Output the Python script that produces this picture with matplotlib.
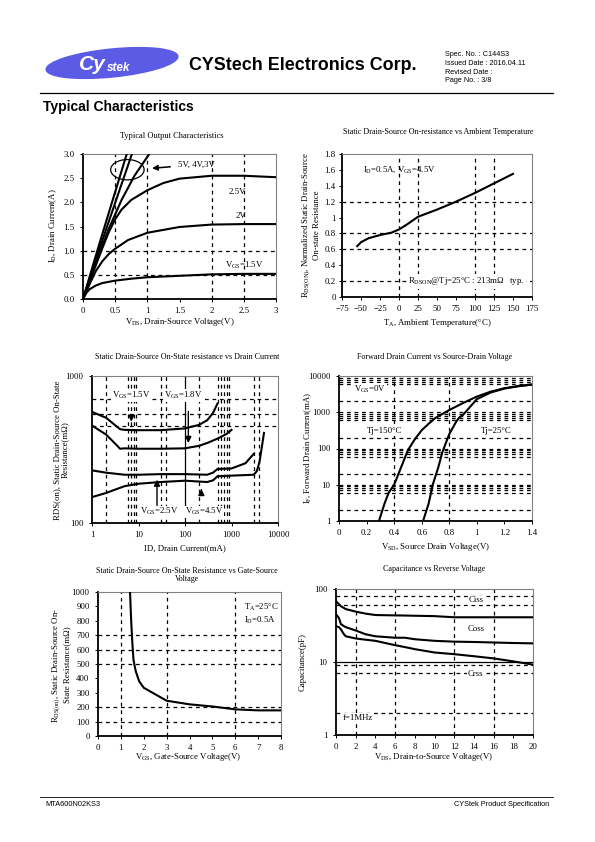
import matplotlib
matplotlib.use("Agg")
import matplotlib.pyplot as plt
from matplotlib.patches import Ellipse

plt.rcParams['font.family'] = ['Liberation Serif', 'DejaVu Serif']
plt.rcParams['mathtext.fontset'] = 'custom'
plt.rcParams['mathtext.rm'] = 'Liberation Serif'
plt.rcParams['mathtext.it'] = 'Liberation Serif:italic'

# ---- data ----
# typical output characteristics, Id(A) vs Vds(V)
vds_15 = [0, 0.05, 0.1, 0.2, 0.3, 0.5, 0.75, 1.0, 1.5, 2.0, 2.5, 3.0]
id_15 = [0, 0.12, 0.2, 0.28, 0.33, 0.38, 0.42, 0.45, 0.48, 0.51, 0.52, 0.52]
vds_2 = [0, 0.1, 0.2, 0.3, 0.4, 0.5, 0.7, 1.0, 1.5, 2.0, 2.5, 3.0]
id_2 = [0, 0.3, 0.58, 0.78, 0.93, 1.04, 1.22, 1.37, 1.49, 1.54, 1.55, 1.55]
vds_25 = [0, 0.1, 0.2, 0.3, 0.4, 0.5, 0.6, 0.75, 1.0, 1.25, 1.5, 2.0, 2.5, 3.0]
id_25 = [0, 0.35, 0.7, 1.05, 1.38, 1.65, 1.85, 2.05, 2.25, 2.4, 2.49, 2.55, 2.55, 2.52]
vds_3 = [0, 0.2, 0.4, 0.6, 0.8, 1.03]
id_3 = [0, 0.75, 1.45, 2.05, 2.55, 3.0]
vds_4 = [0, 0.2, 0.4, 0.76]
id_4 = [0, 0.82, 1.6, 3.0]
vds_5 = [0, 0.2, 0.4, 0.68]
id_5 = [0, 0.9, 1.78, 3.0]

# normalized Rds(on) vs ambient temperature
temp_c = [-55, -50, -40, -25, -10, 0, 10, 25, 50, 75, 100, 125, 150]
rds_norm = [0.64, 0.69, 0.74, 0.78, 0.81, 0.85, 0.91, 1.01, 1.1, 1.2, 1.31, 1.43, 1.55]

# Rds(on) (mOhm) vs drain current (mA)
id_a = [1, 2, 3.5, 4, 5, 10, 30, 100, 200, 300, 400, 500]
rds_a = [570, 520, 450, 435, 430, 428, 428, 440, 465, 500, 560, 650]
id_b = [1, 2, 3.5, 4, 5, 10, 30, 100, 200, 300, 500, 800, 1000]
rds_b = [460, 400, 335, 320, 322, 320, 320, 322, 335, 350, 375, 405, 430]
id_c = [1, 2, 5, 10, 30, 100, 300, 400, 500, 1000, 2000, 3000]
rds_c = [228, 220, 213, 213, 215, 215, 213, 220, 233, 235, 255, 295]
id_d = [1, 2, 5, 10, 30, 100, 300, 400, 500, 1000, 3000, 3500, 4000, 4500, 5000]
rds_d = [150, 160, 178, 185, 190, 194, 190, 195, 208, 210, 213, 225, 260, 330, 410]

# forward drain current (mA) vs source-drain voltage
vsd_150 = [0.29, 0.33, 0.36, 0.4, 0.45, 0.5, 0.55, 0.6, 0.65, 0.7, 0.75, 0.8, 0.9, 1.0, 1.1, 1.2, 1.3, 1.4]
if_150 = [1, 3, 6, 10, 30, 90, 180, 320, 480, 700, 900, 1150, 1800, 2700, 3700, 4600, 5300, 5800]
vsd_25 = [0.61, 0.65, 0.68, 0.72, 0.75, 0.8, 0.85, 0.87, 0.9, 1.0, 1.1, 1.2, 1.3, 1.4]
if_25 = [1, 3, 10, 30, 80, 250, 550, 700, 850, 2300, 3500, 4500, 5200, 5800]

# Rds(on) (mOhm) vs gate-source voltage
vgs = [1.4, 1.45, 1.5, 1.55, 1.65, 1.8, 2.0, 2.5, 3.0, 4.0, 5.0, 6.0, 7.0, 8.0]
rds_vgs = [1000, 800, 650, 530, 450, 380, 335, 290, 245, 220, 205, 185, 178, 178]

# capacitance (pF) vs Vds
cap_v = [0, 0.3, 0.5, 0.8, 1, 2, 3, 4, 6, 7, 8, 10, 12, 14, 16, 18, 20]
ciss = [68, 62, 58, 55, 53, 49, 46, 44, 43.5, 43.3, 43, 42.5, 41, 41, 41, 41, 41]
coss = [45, 40, 33, 31, 30, 27, 24, 22.5, 21.5, 21.5, 20.5, 19.5, 19, 18.8, 18.5, 18.2, 18]
crss = [31, 30, 28, 24, 22.5, 21, 20.2, 19.5, 17, 16, 15, 13.5, 12.8, 12, 11.2, 10.2, 9.2]

W, H = 595, 842
fig = plt.figure(figsize=(W / 100, H / 100), dpi=100)
fig.patch.set_facecolor('white')

FS = 6.3


def px_text(x, y, s, **kw):
    fig.text(x / W, 1 - y / H, s, **kw)


def make_ax(l, t, r, b, pad=4):
    ax = fig.add_axes([l / W, 1 - b / H, (r - l) / W, (b - t) / H])
    for side in ('left', 'bottom'):
        ax.spines[side].set_color('black')
        ax.spines[side].set_linewidth(1.3)
    for side in ('top', 'right'):
        ax.spines[side].set_color('#808080')
        ax.spines[side].set_linewidth(0.8)
    ax.tick_params(labelsize=FS, length=2, width=0.7, direction='out', pad=4)
    ax.tick_params(axis='y', pad=pad)
    ax.tick_params(which='minor', length=0)
    return ax


def dashes(ax, xs=(), ys=()):
    for x in xs:
        ax.axvline(x, color='black', lw=0.9, ls=(0, (3, 3)), zorder=1)
    for y in ys:
        ax.axhline(y, color='black', lw=0.9, ls=(0, (3, 3)), zorder=1)


lw = 1.5

# ---------- header ----------
logo = Ellipse((112 / W, 1 - 63 / H), 132 / W, 28 / H, angle=4, color='#5b5be6', transform=fig.transFigure)
fig.patches.append(logo)
px_text(79, 65, 'Cy', color='white', fontsize=15, fontweight='bold', fontstyle='italic',
        family='Liberation Sans', ha='left', va='center')
px_text(107, 68, 'stek', color='white', fontsize=8.5, fontweight='bold', fontstyle='italic',
        family='Liberation Sans', ha='left', va='center')
px_text(189, 66, 'CYStech Electronics Corp.', fontsize=12.9, fontweight='bold',
        family='Liberation Sans', ha='left', va='center')
for i, s in enumerate(['Spec. No. : C144S3', 'Issued Date : 2016.04.11', 'Revised Date :', 'Page No. : 3/8']):
    px_text(445, 55 + i * 8.6, s, fontsize=5.2, family='Liberation Sans', ha='left', va='center')
fig.add_artist(plt.Line2D([40 / W, 553 / W], [1 - 93 / H, 1 - 93 / H], color='black', lw=0.9,
                          transform=fig.transFigure))
px_text(43, 107, 'Typical Characteristics', fontsize=10, fontweight='bold',
        family='Liberation Sans', ha='left', va='center')

# footer
fig.add_artist(plt.Line2D([40 / W, 553 / W], [1 - 797 / H, 1 - 797 / H], color='black', lw=0.6,
                          transform=fig.transFigure))
px_text(45, 804, 'MTA600N02KS3', fontsize=5.3, family='Liberation Sans', ha='left', va='center')
px_text(549, 804, 'CYStek Product Specification', fontsize=5.3, family='Liberation Sans',
        ha='right', va='center')

# ---------- 1: output characteristics ----------
ax = make_ax(83, 154, 276, 299)
dashes(ax, xs=[0.5, 1, 2, 2.5], ys=[0.5, 1.0])
for xv, yv in [(vds_15, id_15), (vds_2, id_2), (vds_25, id_25), (vds_3, id_3), (vds_4, id_4), (vds_5, id_5)]:
    ax.plot(xv, yv, color='black', lw=lw, zorder=3)
ax.set_xlim(0, 3)
ax.set_ylim(0, 3)
ax.set_xticks([0, 0.5, 1, 1.5, 2, 2.5, 3])
ax.set_xticklabels(['0', '0.5', '1', '1.5', '2', '2.5', '3'])
ax.set_yticks([0, 0.5, 1, 1.5, 2, 2.5, 3])
ax.set_yticklabels(['0.0', '0.5', '1.0', '1.5', '2.0', '2.5', '3.0'])
ax.add_patch(Ellipse((0.69, 2.675), 0.52, 0.42, fill=False, color='black', lw=0.9))
ax.annotate('', xy=(1.03, 2.7), xytext=(1.4, 2.74),
            arrowprops=dict(arrowstyle='-|>', color='black', lw=1.1, mutation_scale=8))
ax.text(1.47, 2.77, '5V, 4V,3V', fontsize=FS, ha='left', va='center')
ax.text(2.4, 2.22, '2.5V', fontsize=FS, ha='center', va='center')
ax.text(2.45, 1.72, '2V', fontsize=FS, ha='center', va='center')
ax.text(2.5, 0.69, 'V$_{\\mathrm{GS}}$=1.5V', fontsize=FS, ha='center', va='center')
px_text(172, 136, 'Typical Output Characteristics', fontsize=6, ha='center', va='center')
px_text(180, 322, 'V$_{\\mathrm{DS}}$, Drain-Source Voltage(V)', fontsize=FS, ha='center', va='center')
px_text(53, 226, 'I$_{\\mathrm{D}}$, Drain Current(A)', fontsize=FS, ha='center', va='center', rotation=90)

# ---------- 2: Rds vs ambient temperature ----------
ax = make_ax(342, 154, 532, 297, pad=2.5)
dashes(ax, xs=[0, 25, 100, 125], ys=[0.2, 0.6, 0.8, 1.2])
ax.plot(temp_c, rds_norm, color='black', lw=lw, zorder=3)
ax.set_xlim(-75, 175)
ax.set_ylim(0, 1.8)
ax.set_xticks(range(-75, 176, 25))
ax.set_yticks([0, 0.2, 0.4, 0.6, 0.8, 1.0, 1.2, 1.4, 1.6, 1.8])
ax.set_yticklabels(['0', '0.2', '0.4', '0.6', '0.8', '1', '1.2', '1.4', '1.6', '1.8'])
ax.text(-47, 1.6, 'I$_{\\mathrm{D}}$=0.5A, V$_{\\mathrm{GS}}$=4.5V', fontsize=FS, ha='left', va='center')
ax.text(12, 0.2, 'R$_{\\mathrm{DSON}}$@Tj=25°C : 213mΩ   typ.', fontsize=FS, ha='left', va='center',
        bbox=dict(facecolor='white', edgecolor='none', pad=1), zorder=4)
px_text(438, 132, 'Static Drain-Source On-resistance vs Ambient Temperature', fontsize=5.8,
        ha='center', va='center')
px_text(437, 323, 'T$_{\\mathrm{A}}$, Ambient Temperature(°C)', fontsize=FS, ha='center', va='center')
px_text(311, 225, 'R$_{\\mathrm{DS(ON)}}$, Normalized Static Drain-Source\nOn-state Resistance',
        fontsize=FS, ha='center', va='center', rotation=90, linespacing=1.0)

# ---------- 3: Rds vs drain current ----------
ax = make_ax(92, 376, 278, 523)
ax.set_xscale('log')
ax.set_yscale('log')
dashes(ax, xs=[2, 6, 7, 8, 9, 30, 40, 200, 500, 600, 700, 800, 900, 3000, 4000], ys=[460, 550, 700])
ax.axvline(100, color='black', lw=0.9, zorder=1)
for xv, yv in [(id_a, rds_a), (id_b, rds_b), (id_c, rds_c), (id_d, rds_d)]:
    ax.plot(xv, yv, color='black', lw=lw, zorder=3)
ax.set_xlim(1, 10000)
ax.set_ylim(100, 1000)
ax.set_xticks([1, 10, 100, 1000, 10000])
ax.set_xticklabels(['1', '10', '100', '1000', '10000'])
ax.set_yticks([100, 1000])
ax.set_yticklabels(['100', '1000'])
ax.minorticks_off()
wb = dict(facecolor='white', edgecolor='none', pad=0.5)
ax.text(7, 735, 'V$_{\\mathrm{GS}}$=1.5V', fontsize=FS, ha='center', va='center', bbox=wb, zorder=4)
ax.text(90, 735, 'V$_{\\mathrm{GS}}$=1.8V', fontsize=FS, ha='center', va='center', bbox=wb, zorder=4)
ax.text(28, 119, 'V$_{\\mathrm{GS}}$=2.5V', fontsize=FS, ha='center', va='center', bbox=wb, zorder=4)
ax.text(260, 119, 'V$_{\\mathrm{GS}}$=4.5V', fontsize=FS, ha='center', va='center', bbox=wb, zorder=4)
arr = dict(arrowstyle='-|>', color='black', lw=1.0, mutation_scale=9)
ax.annotate('', xy=(7, 468), xytext=(7, 560), arrowprops=arr, zorder=5)
ax.annotate('', xy=(118, 335), xytext=(118, 600), arrowprops=arr, zorder=5)
ax.annotate('', xy=(25, 206), xytext=(25, 126), arrowprops=arr, zorder=5)
ax.annotate('', xy=(225, 178), xytext=(225, 160), arrowprops=arr, zorder=5)
px_text(187, 357, 'Static Drain-Source On-State resistance vs Drain Current', fontsize=5.8,
        ha='center', va='center')
px_text(185, 548, 'ID, Drain Current(mA)', fontsize=FS, ha='center', va='center')
px_text(61, 450, 'RDS(on), Static Drain-Source On-State\nResistance(mΩ)', fontsize=FS,
        ha='center', va='center', rotation=90, linespacing=1.0)

# ---------- 4: forward drain current ----------
ax = make_ax(339, 376, 532, 521)
ax.set_yscale('log')
ys4 = []
for dec in [1, 10, 100, 1000]:
    ys4 += [2 * dec, 6 * dec, 7 * dec, 8 * dec, 9 * dec]
ys4 += [10, 100, 1000]
dashes(ax, xs=[0.4, 0.8], ys=ys4)
ax.plot(vsd_150, if_150, color='black', lw=lw, zorder=3)
ax.plot(vsd_25, if_25, color='black', lw=lw, zorder=3)
ax.set_xlim(0, 1.4)
ax.set_ylim(1, 10000)
ax.set_xticks([0, 0.2, 0.4, 0.6, 0.8, 1.0, 1.2, 1.4])
ax.set_xticklabels(['0', '0.2', '0.4', '0.6', '0.8', '1', '1.2', '1.4'])
ax.set_yticks([1, 10, 100, 1000, 10000])
ax.set_yticklabels(['1', '10', '100', '1000', '10000'])
ax.minorticks_off()
ax.text(0.11, 4200, 'V$_{\\mathrm{GS}}$=0V', fontsize=FS, ha='left', va='center', bbox=wb, zorder=4)
ax.text(0.2, 300, 'Tj=150°C', fontsize=FS, ha='left', va='center', bbox=wb, zorder=4)
ax.text(1.03, 300, 'Tj=25°C', fontsize=FS, ha='left', va='center', bbox=wb, zorder=4)
px_text(435, 357, 'Forward Drain Current vs Source-Drain Voltage', fontsize=5.8, ha='center', va='center')
px_text(435, 547, 'V$_{\\mathrm{SD}}$, Source Drain Voltage(V)', fontsize=FS, ha='center', va='center')
px_text(308, 448, 'I$_{\\mathrm{F}}$, Forward Drain Current(mA)', fontsize=FS, ha='center', va='center',
        rotation=90)

# ---------- 5: Rds vs gate-source voltage ----------
ax = make_ax(98, 592, 281, 736)
dashes(ax, xs=[1, 3, 6], ys=[100, 200, 500, 600, 700])
ax.plot(vgs, rds_vgs, color='black', lw=lw, zorder=3)
ax.set_xlim(0, 8)
ax.set_ylim(0, 1000)
ax.set_xticks(range(0, 9))
ax.set_yticks(range(0, 1001, 100))
ax.text(6.4, 895, 'T$_{\\mathrm{A}}$=25°C', fontsize=FS, ha='left', va='center')
ax.text(6.4, 805, 'I$_{\\mathrm{D}}$=0.5A', fontsize=FS, ha='left', va='center')
px_text(187, 575, 'Static Drain-Source On-State Resistance vs Gate-Source\nVoltage', fontsize=5.8,
        ha='center', va='center', linespacing=1.1)
px_text(188, 757, 'V$_{\\mathrm{GS}}$, Gate-Source Voltage(V)', fontsize=FS, ha='center', va='center')
px_text(61, 665, 'R$_{\\mathrm{DS(on)}}$, Static Drain-Source On-\nState Resistance(mΩ)', fontsize=FS,
        ha='center', va='center', rotation=90, linespacing=1.0)

# ---------- 6: capacitance ----------
ax = make_ax(336, 589, 533, 735)
ax.set_yscale('log')
dashes(ax, xs=[2, 6, 12, 16], ys=[2, 7, 9, 60, 80])
ax.axhline(10, color='black', lw=0.9, zorder=1)
for yv in (ciss, coss, crss):
    ax.plot(cap_v, yv, color='black', lw=lw, zorder=3)
ax.set_xlim(0, 20)
ax.set_ylim(1, 100)
ax.set_xticks(range(0, 21, 2))
ax.set_yticks([1, 10, 100])
ax.set_yticklabels(['1', '10', '100'])
ax.minorticks_off()
ax.text(14.2, 70, 'Ciss', fontsize=FS, ha='center', va='center', bbox=wb, zorder=4)
ax.text(14.2, 28, 'Coss', fontsize=FS, ha='center', va='center', bbox=wb, zorder=4)
ax.text(14.2, 6.8, 'Crss', fontsize=FS, ha='center', va='center', bbox=wb, zorder=4)
ax.text(0.7, 1.7, 'f=1MHz', fontsize=FS, ha='left', va='center', bbox=wb, zorder=4)
px_text(434, 569, 'Capacitance vs Reverse Voltage', fontsize=5.8, ha='center', va='center')
px_text(434, 757, 'V$_{\\mathrm{DS}}$, Drain-to-Source Voltage(V)', fontsize=FS, ha='center', va='center')
px_text(303, 662, 'Capacitance(pF)', fontsize=FS, ha='center', va='center', rotation=90)

fig.savefig('out.png', dpi=100, facecolor='white')
